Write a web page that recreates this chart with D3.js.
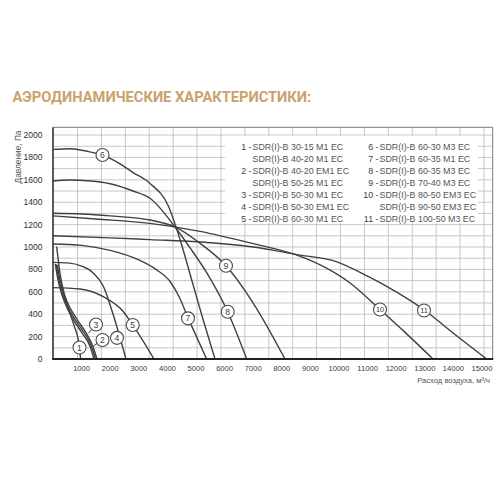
<!DOCTYPE html>
<html><head><meta charset="utf-8">
<script src="https://cdn.jsdelivr.net/npm/d3@7"></script>
<style>body{margin:0;background:#fff}</style>
</head><body>
<svg id="c" width="504" height="504"></svg>
<script>
// ---- data ----
const titleText = "АЭРОДИНАМИЧЕСКИЕ ХАРАКТЕРИСТИКИ:";
const yLabel = "Давление, Па";
const xLabel = "Расход воздуха, м³/ч";
const yTicks = [0,200,400,600,800,1000,1200,1400,1600,1800,2000];
const xTicks = [1000,2000,3000,4000,5000,6000,7000,8000,9000,10000,11000,12000,13000,14000,15000];

// curves: [flow m3/h, pressure Pa]
const c1  = [[128,1003],[245,765],[420,556],[594,408],[760,280],[885,170],[968,0]];
const c2a = [[80,850],[180,700],[330,560],[520,440],[760,330],[1050,220],[1300,110],[1434,0]];
const c3  = [[110,845],[210,700],[360,565],[560,445],[800,340],[1100,230],[1350,110],[1490,0]];
const c2  = [[150,840],[250,700],[400,570],[600,455],[850,350],[1150,235],[1400,110],[1538,0]];
const c4  = [[0,863],[500,858],[1000,830],[1400,770],[1760,650],[2100,400],[2552,0]];
const c5  = [[0,637],[944,625],[1760,556],[2460,422],[2787,304],[3531,0]];
const c6  = [[0,1872],[600,1878],[1200,1855],[1731,1821],[2300,1750],[2800,1665],[3392,1568],[4033,1366],[4450,1060],[4850,705],[5250,350],[5664,0]];
const c7  = [[0,1027],[1000,1015],[2000,970],[3000,885],[3600,800],[4100,690],[4400,560],[4731,363],[5374,0]];
const c8  = [[0,1590],[600,1598],[1200,1592],[2000,1565],[2800,1500],[3392,1435],[4266,1179],[4800,990],[5400,760],[6108,422],[6772,0]];
const c9  = [[0,1301],[1000,1295],[2000,1278],[3392,1241],[4266,1179],[5070,1047],[6049,833],[7000,500],[8112,0]];
const c10 = [[0,1278],[1500,1250],[3392,1211],[5140,1140],[7000,1030],[8530,928],[9500,820],[10385,679],[11434,442],[12300,240],[13287,0]];
const c11 = [[0,1100],[2000,1082],[3392,1066],[5070,1047],[7000,1000],[8636,928],[9800,878],[11000,740],[12000,600],[12972,440],[14000,230],[15164,0]];
const seriesList = [c1,c2a,c3,c2,c4,c5,c6,c7,c8,c9,c10,c11];

// circle labels: [label, flow, pressure]
const labelPos = [["1",927,103],["2",1731,170],["3",1503,308],["4",2238,189],["5",2787,304],
  ["6",1731,1821],["7",4720,363],["8",6108,422],["9",6049,833],["10",11434,442],["11",12972,433]];
// leader lines: [label, flow, pressure of target on curve]
const leaders = [["2",1409,116],["3",1234,229]];

const legendLeft = [["1 - ","SDR(I)-B 30-15 M1 EC"],["","SDR(I)-B 40-20 M1 EC"],["2 - ","SDR(I)-B 40-20 EM1 EC"],
  ["","SDR(I)-B 50-25 M1 EC"],["3 - ","SDR(I)-B 50-30 M1 EC"],["4 - ","SDR(I)-B 50-30 EM1 EC"],["5 - ","SDR(I)-B 60-30 M1 EC"]];
const legendRight = [["6 - ","SDR(I)-B 60-30 M3 EC"],["7 - ","SDR(I)-B 60-35 M1 EC"],["8 - ","SDR(I)-B 60-35 M3 EC"],
  ["9 - ","SDR(I)-B 70-40 M3 EC"],["10 - ","SDR(I)-B 80-50 EM3 EC"],["","SDR(I)-B 90-50 EM3 EC"],["11 - ","SDR(I)-B 100-50 M3 EC"]];

// ---- layout ----
const L = 53, R = 492.7, T = 127.3, B = 359;
const xMax = 15374, yMax = 2069;
const gridXStart = 857, gridXStep = 836, gridYStep = 100;

const svg = d3.select("#c");
const x = d3.scaleLinear().domain([0,xMax]).range([L,R]);
const y = d3.scaleLinear().domain([0,yMax]).range([B,T]);
const font = "'Liberation Sans', Arial, sans-serif";

// title
const tt = svg.append("text").attr("x",12.5).attr("y",102.3)
  .attr("font-family","Roboto, sans-serif").attr("font-weight",700).attr("font-size",14)
  .attr("fill","#c9a26c").text(titleText);
const tw = tt.node().getComputedTextLength();
tt.attr("font-size", 14*299/tw);

// grid
const g = svg.append("g");
const gx = d3.range(gridXStart, xMax, gridXStep);
g.selectAll("line.gv").data(gx).join("line")
  .attr("x1",d=>x(d)).attr("x2",d=>x(d)).attr("y1",T).attr("y2",B)
  .attr("stroke","#b9b9b9").attr("stroke-width",0.8);
const gy = d3.range(gridYStep, yMax, gridYStep);
g.selectAll("line.gh").data(gy).join("line")
  .attr("x1",L).attr("x2",R).attr("y1",d=>y(d)).attr("y2",d=>y(d))
  .attr("stroke","#b9b9b9").attr("stroke-width",0.8);
// border top/right
svg.append("path").attr("d",`M${L},${T}H${R}V${B}`).attr("fill","none").attr("stroke","#7a7a7a").attr("stroke-width",1);

// legend box
svg.append("rect").attr("x",225).attr("y",135.8).attr("width",253).attr("height",87).attr("fill","#fff");
function legendCol(items, xEnd){
  items.forEach((d,i)=>{
    const yy = 150 + i*12;
    svg.append("text").attr("x",xEnd).attr("y",yy).attr("text-anchor","end")
      .attr("font-family",font).attr("font-size",8.9).attr("fill","#444").text(d[0]);
    svg.append("text").attr("x",xEnd+1).attr("y",yy)
      .attr("font-family",font).attr("font-size",8.9).attr("fill","#555").text(d[1]);
  });
}
legendCol(legendLeft, 251.5);
legendCol(legendRight, 378.5);

// clip
svg.append("clipPath").attr("id","clip").append("rect").attr("x",L).attr("y",T).attr("width",R-L).attr("height",B-T);

// curves
const line = d3.line().x(d=>x(d[0])).y(d=>y(d[1])).curve(d3.curveMonotoneX);
svg.append("g").attr("clip-path","url(#clip)").selectAll("path").data(seriesList).join("path")
  .attr("d",line).attr("fill","none").attr("stroke","#404040").attr("stroke-width",1.4);

// leaders
const lp = new Map(labelPos.map(d=>[d[0],d]));
svg.selectAll("line.ld").data(leaders).join("line")
  .attr("x1",d=>x(lp.get(d[0])[1])).attr("y1",d=>y(lp.get(d[0])[2]))
  .attr("x2",d=>x(d[1])).attr("y2",d=>y(d[2]))
  .attr("stroke","#404040").attr("stroke-width",1);

// circle labels
const lg = svg.append("g").selectAll("g").data(labelPos).join("g")
  .attr("transform",d=>`translate(${x(d[1])},${y(d[2])})`);
lg.append("circle").attr("r",6.5).attr("fill","#fff").attr("stroke","#4a4a4a").attr("stroke-width",1.1);
lg.append("text").attr("text-anchor","middle").attr("dy","0.36em")
  .attr("font-family",font).attr("font-size",d=>d[0].length>1?7.4:8.6).attr("fill","#404040").text(d=>d[0]);

// axes lines
svg.append("line").attr("x1",L).attr("x2",L).attr("y1",T).attr("y2",B).attr("stroke","#333").attr("stroke-width",1.6);
svg.append("line").attr("x1",L-0.8).attr("x2",R+0.5).attr("y1",B).attr("y2",B).attr("stroke","#222").attr("stroke-width",2);

// tick labels
svg.selectAll("text.yt").data(yTicks).join("text")
  .attr("x",42.5).attr("y",d=>y(d)).attr("dy","0.35em").attr("text-anchor","end")
  .attr("font-family",font).attr("font-size",8.5).attr("fill","#2e2e2e").text(d=>d);
svg.selectAll("text.xt").data(xTicks).join("text")
  .attr("x",d=>x(d)).attr("y",371).attr("text-anchor","middle")
  .attr("font-family",font).attr("font-size",7.6).attr("fill","#3a3a3a").text(d=>d);

// axis titles
svg.append("text").attr("transform","translate(20.5,157) rotate(-90)").attr("text-anchor","middle")
  .attr("font-family",font).attr("font-size",8.3).attr("fill","#555").text(yLabel);
svg.append("text").attr("x",490).attr("y",383).attr("text-anchor","end")
  .attr("font-family",font).attr("font-size",7.6).attr("fill","#555").text(xLabel);
</script>
</body></html>
